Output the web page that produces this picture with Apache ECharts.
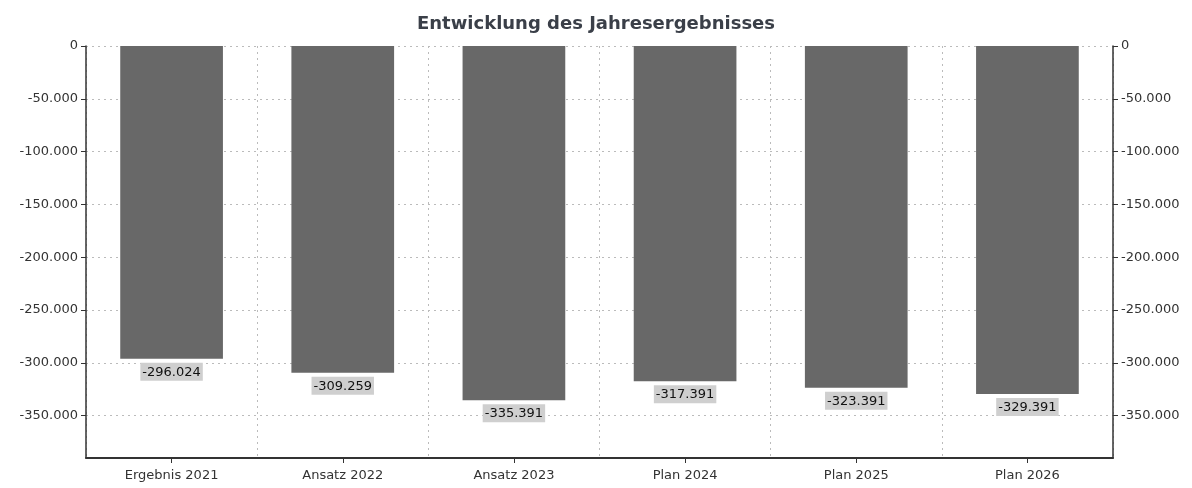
<!DOCTYPE html>
<html>
<head>
<meta charset="utf-8">
<style>html,body{margin:0;padding:0;background:#fff}#c{width:1192px;height:488px}</style>
<script src="https://cdn.jsdelivr.net/npm/echarts@6/dist/echarts.min.js"></script>
</head>
<body>
<div id="c"></div>
<script>
const categories = ['Ergebnis 2021', 'Ansatz 2022', 'Ansatz 2023', 'Plan 2024', 'Plan 2025', 'Plan 2026'];
const values = [-296024, -309259, -335391, -317391, -323391, -329391];
const tickValues = [0, -50000, -100000, -150000, -200000, -250000, -300000, -350000];

function fmt(v) {
  const s = Math.abs(Math.round(v)).toString().replace(/\B(?=(\d{3})+(?!\d))/g, '.');
  return (v < 0 ? '-' : '') + s;
}

const font = 'DejaVu Sans';
const yAxisBase = {
  type: 'value',
  min: -390000,
  max: 0,
  axisLine: { show: true, lineStyle: { color: '#333', width: 1.5 } },
  axisTick: { show: true, length: 5, lineStyle: { color: '#333' }, customValues: tickValues },
  axisLabel: { color: '#333', fontFamily: font, fontSize: 13, formatter: fmt, customValues: tickValues, margin: 8 },
};

const chart = echarts.init(document.getElementById('c'));
chart.setOption({
  animation: false,
  title: {
    text: 'Entwicklung des Jahresergebnisses',
    left: 'center', top: 10,
    textStyle: { fontFamily: font, fontSize: 18, fontWeight: 'bold', color: '#3a3f48' }
  },
  grid: { left: 86, right: 79, top: 46, bottom: 30 },
  xAxis: {
    type: 'category',
    data: categories,
    position: 'bottom',
    axisLine: { show: true, onZero: false, lineStyle: { color: '#333', width: 2 } },
    axisTick: { show: true, alignWithLabel: true, length: 5, lineStyle: { color: '#333' } },
    axisLabel: { color: '#333', fontFamily: font, fontSize: 13, margin: 11 },
    splitLine: { show: true, interval: 0, lineStyle: { color: '#bbb', type: [2, 4] } }
  },
  yAxis: [
    Object.assign({}, yAxisBase, {
      position: 'left',
      splitLine: { show: true, lineStyle: { color: '#bbb', type: [2, 4] } }
    }),
    Object.assign({}, yAxisBase, {
      position: 'right',
      splitLine: { show: false }
    })
  ],
  series: [{
    type: 'bar',
    data: values,
    yAxisIndex: 0,
    barWidth: '60%',
    itemStyle: { color: '#686868' },
    label: {
      show: true,
      position: 'bottom',
      distance: 4,
      formatter: p => fmt(p.value),
      fontFamily: font,
      fontSize: 13,
      color: '#111',
      backgroundColor: '#cfcfcf',
      padding: [3, 2, 2, 2]
    }
  }]
});
</script>
</body>
</html>
